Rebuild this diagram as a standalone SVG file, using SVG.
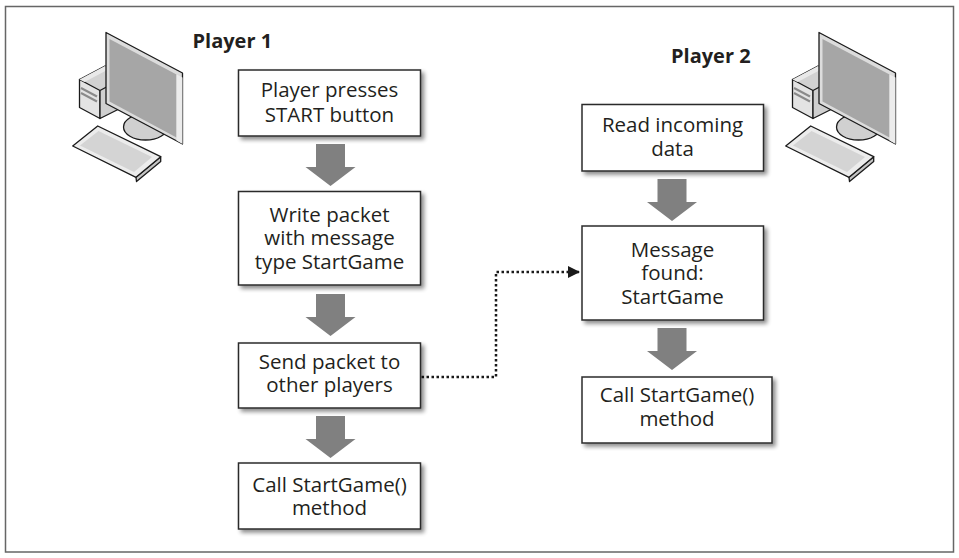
<svg xmlns="http://www.w3.org/2000/svg" xmlns:xlink="http://www.w3.org/1999/xlink" width="959" height="558" viewBox="0 0 959 558">
  <style>
    .frame { fill: #ffffff; stroke: #666666; stroke-width: 1.5; }
    .box { fill: #ffffff; stroke: #2b2b2b; stroke-width: 1.5; filter: url(#shadow); }
    .lbl { font-family: "Open Sans", "Liberation Sans", sans-serif; font-size: 20.5px; fill: #231f20; text-anchor: middle; }
    .title { font-family: "Open Sans", "Liberation Sans", sans-serif; font-size: 20px; font-weight: bold; fill: #231f20; }
    .flow { fill: #808080; }
    .link { fill: none; stroke: #1a1a1a; stroke-width: 2.5; stroke-dasharray: 2.5 2.5; }
    .pc-line { stroke: #1a1a1a; stroke-width: 1.3; stroke-linejoin: round; }
  </style>
  <defs>
    <filter id="shadow" x="-10%" y="-10%" width="125%" height="130%">
      <feGaussianBlur in="SourceAlpha" stdDeviation="2"/>
      <feOffset dx="2.5" dy="3" result="off"/>
      <feComponentTransfer>
        <feFuncA type="linear" slope="0.45"/>
      </feComponentTransfer>
      <feMerge>
        <feMergeNode/>
        <feMergeNode in="SourceGraphic"/>
      </feMerge>
    </filter>
    <!-- thick grey block arrow, origin at top centre of the shaft -->
    <path id="blockArrow" class="flow" d="M-14.5,0 H14.5 V23 H25 L0,42 L-25,23 H-14.5 Z"/>
    <marker id="tri" viewBox="0 0 12 12" refX="11" refY="6" markerWidth="12" markerHeight="12" markerUnits="userSpaceOnUse" orient="auto">
      <path d="M0,0 L12,6 L0,12 Z" fill="#1a1a1a"/>
    </marker>
    <!-- desktop computer: tower, stand, monitor, keyboard -->
    <g id="computer">
      <!-- tower -->
      <polygon class="pc-line" fill="#d2d2d2" points="79.5,79.5 105,66 130,79 100,92"/>
      <polygon class="pc-line" fill="#e3e3e3" points="79.5,79.5 100,90.5 100,118.5 79.5,107.5"/>
      <polygon class="pc-line" fill="#cfcfcf" points="100,90.5 125,77 125,106 100,118.5"/>
      <polygon fill="#e9e9e9" points="79.5,79.5 105,66 110,68.5 84.5,82"/>
      <line x1="81" y1="88" x2="97" y2="96.5" stroke="#8a8a8a" stroke-width="2"/>
      <line x1="81" y1="93" x2="97" y2="101.5" stroke="#8a8a8a" stroke-width="2"/>
      <!-- stand -->
      <ellipse class="pc-line" fill="#d0d0d0" cx="145.5" cy="127" rx="22" ry="13"/>
      <!-- monitor -->
      <polygon class="pc-line" fill="#dcdcdc" points="106,32.5 182.5,73 182.5,144 106,103.5"/>
      <polygon fill="#a6a6a6" points="109.5,39 176.5,74.5 176.5,137.5 109.5,101.5"/>
      <polygon fill="#ececec" points="176.5,74.5 182.5,77.5 182.5,144 176.5,140.5"/>
      <!-- keyboard -->
      <polygon class="pc-line" fill="#c4c4c4" points="136,177.3 160.7,156.7 160.7,161.5 136.5,181.5"/>
      <polygon class="pc-line" fill="#ececec" points="72.7,146 97.7,126 160.7,156.7 136,177.3"/>
      <polygon fill="#d4d4d4" points="80,145.5 98.5,131 152,157 134,172"/>
    </g>
  </defs>

  <!-- outer frame -->
  <rect class="frame" x="5.5" y="6.5" width="948" height="545.5"/>

  <!-- workstations -->
  <use id="computer-1" xlink:href="#computer"/>
  <use id="computer-2" xlink:href="#computer" transform="translate(713,0)"/>

  <!-- column headings -->
  <text id="title-player1" class="title" x="192.5" y="48">Player 1</text>
  <text id="title-player2" class="title" x="671" y="63">Player 2</text>

  <!-- connectors -->
  <g id="connectors">
    <use xlink:href="#blockArrow" transform="translate(330.5,144)"/>
    <use xlink:href="#blockArrow" transform="translate(330.5,294)"/>
    <use xlink:href="#blockArrow" transform="translate(330.5,416)"/>
    <use xlink:href="#blockArrow" transform="translate(672,179)"/>
    <use xlink:href="#blockArrow" transform="translate(672,328)"/>
    <polyline class="link" points="421.5,377 496,377 496,272 579,272" marker-end="url(#tri)"/>
  </g>

  <!-- Player 1 steps -->
  <g id="p1-press">
    <rect class="box" x="238.5" y="70" width="182" height="66"/>
    <text class="lbl" x="329.5" y="97">Player presses</text>
    <text class="lbl" x="329.5" y="122">START button</text>
  </g>
  <g id="p1-write">
    <rect class="box" x="238.5" y="191.5" width="182" height="93.5"/>
    <text class="lbl" x="329.5" y="221.5">Write packet</text>
    <text class="lbl" x="329.5" y="245">with message</text>
    <text class="lbl" x="329.5" y="268.5">type StartGame</text>
  </g>
  <g id="p1-send">
    <rect class="box" x="238.5" y="343" width="182" height="65"/>
    <text class="lbl" x="329.5" y="368.5">Send packet to</text>
    <text class="lbl" x="329.5" y="392">other players</text>
  </g>
  <g id="p1-call">
    <rect class="box" x="238.5" y="463" width="182" height="66"/>
    <text class="lbl" x="329.5" y="491.5">Call StartGame()</text>
    <text class="lbl" x="329.5" y="515">method</text>
  </g>

  <!-- Player 2 steps -->
  <g id="p2-read">
    <rect class="box" x="582" y="104.5" width="181.5" height="66.5"/>
    <text class="lbl" x="672.5" y="131.5">Read incoming</text>
    <text class="lbl" x="672.5" y="155.5">data</text>
  </g>
  <g id="p2-found">
    <rect class="box" x="582" y="226" width="181.5" height="94"/>
    <text class="lbl" x="672.5" y="256.5">Message</text>
    <text class="lbl" x="672.5" y="280">found:</text>
    <text class="lbl" x="672.5" y="303.5">StartGame</text>
  </g>
  <g id="p2-call">
    <rect class="box" x="582" y="377" width="190" height="66"/>
    <text class="lbl" x="677" y="402">Call StartGame()</text>
    <text class="lbl" x="677" y="425.5">method</text>
  </g>
</svg>
